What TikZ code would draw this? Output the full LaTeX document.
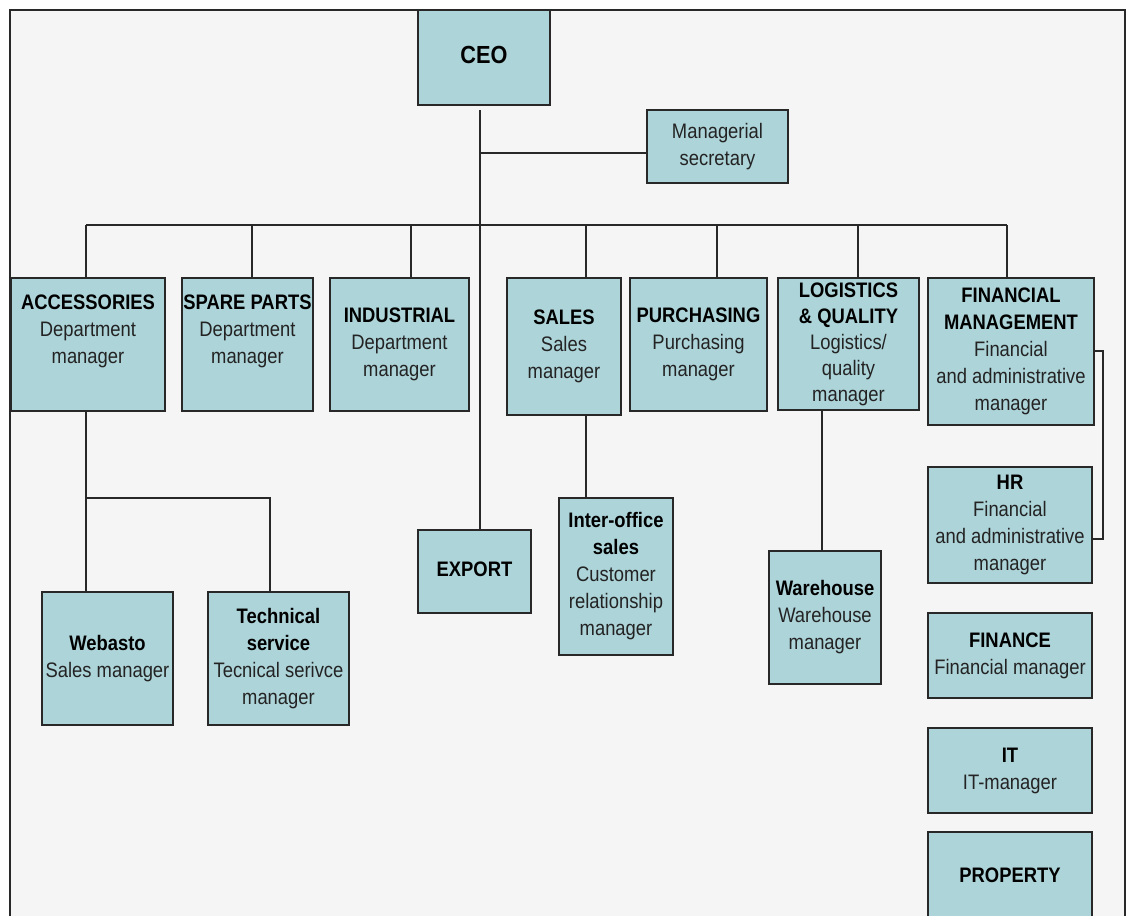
\documentclass[tikz,border=0pt]{standalone}
\usepackage{fontspec}
\usepackage{graphicx}
\setmainfont{Liberation Sans}
\definecolor{boxfill}{RGB}{173,212,217}
\definecolor{pagebg}{RGB}{245,245,245}
\definecolor{edge}{RGB}{40,40,40}
\definecolor{ink}{RGB}{35,35,35}
% text block set a little taller than wide
\newcommand{\tall}[1]{\scalebox{1}[1.14]{\begin{tabular}{@{}c@{}}#1\end{tabular}}}
\newcommand{\hd}[1]{\textbf{\color{black}#1}}
\tikzset{
  unit/.style={draw=edge, line width=1.4pt, fill=boxfill, inner sep=0pt,
    align=center, text=ink, font=\fontsize{18.4}{23.7}\selectfont},
  link/.style={draw=edge, line width=1.3pt},
}
\begin{document}
\begin{tikzpicture}[x=1pt, y=-1pt]
\useasboundingbox (0,0) rectangle (1128,916);
\clip (0,0) rectangle (1128,916);
% page frame
\fill[white] (0,0) rectangle (1128,916);
\fill[pagebg] (10,10) rectangle (1125,920);
\draw[edge, line width=1.3pt] (10,920) -- (10,10) -- (1125,10) -- (1125,920);

% top level
\node[unit, minimum width=132pt, minimum height=95pt, font=\fontsize{21.7}{26}\selectfont] (ceo) at (484,57.5) {\tall{\hd{CEO}}};
\node[unit, minimum width=141pt, minimum height=73pt] (sec) at (717.5,146.5) {\tall{Managerial\\secretary}};

% departments
\node[unit, minimum width=154pt, minimum height=133pt] (acc) at (88,344.5) {\tall{\hd{ACCESSORIES}\\Department\\manager\\{}}};
\node[unit, minimum width=131pt, minimum height=133pt] (spare) at (247.5,344.5) {\tall{\hd{SPARE PARTS}\\Department\\manager\\{}}};
\node[unit, minimum width=139pt, minimum height=133pt] (ind) at (399.5,344.5) {\tall{\hd{INDUSTRIAL}\\Department\\manager}};
\node[unit, minimum width=114pt, minimum height=137pt] (sales) at (564,346.5) {\tall{\hd{SALES}\\Sales\\manager}};
\node[unit, minimum width=137pt, minimum height=133pt] (purch) at (698.5,344.5) {\tall{\hd{PURCHASING}\\Purchasing\\manager}};
\node[unit, minimum width=141pt, minimum height=132pt, font=\fontsize{18.4}{22.8}\selectfont] (log) at (848.5,344) {\tall{\hd{LOGISTICS}\\\hd{\& QUALITY}\\Logistics/\\quality\\manager}};
\node[unit, minimum width=166pt, minimum height=147pt] (fin) at (1011,351.5) {\tall{\hd{FINANCIAL}\\\hd{MANAGEMENT}\\Financial\\and administrative\\manager}};

% financial column
\node[unit, minimum width=164pt, minimum height=116pt] (hr) at (1010,525) {\tall{\hd{HR}\\Financial\\and administrative\\manager}};
\node[unit, minimum width=164pt, minimum height=85pt] (finance) at (1010,655.5) {\tall{\hd{FINANCE}\\Financial manager}};
\node[unit, minimum width=164pt, minimum height=85pt] (it) at (1010,770.5) {\tall{\hd{IT}\\IT-manager}};
\node[unit, minimum width=164pt, minimum height=90pt] (prop) at (1010,877) {\tall{\hd{PROPERTY}}};

% lower units
\node[unit, minimum width=131pt, minimum height=133pt] (webasto) at (107.5,658.5) {\tall{\hd{Webasto}\\Sales manager}};
\node[unit, minimum width=141pt, minimum height=133pt] (tech) at (278.5,658.5) {\tall{\hd{Technical}\\\hd{service}\\Tecnical serivce\\manager}};
\node[unit, minimum width=113pt, minimum height=83pt] (export) at (474.5,571.5) {\tall{\hd{EXPORT}}};
\node[unit, minimum width=114pt, minimum height=157pt] (inter) at (616,576.5) {\tall{\hd{Inter-office}\\\hd{sales}\\Customer\\relationship\\manager}};
\node[unit, minimum width=112pt, minimum height=133pt] (ware) at (825,617.5) {\tall{\hd{Warehouse}\\Warehouse\\manager}};

% junction points
\coordinate (ceoTap) at (480,110);
\coordinate (secJ) at (480,153);
\coordinate (busL) at (86,225);
\coordinate (busR) at (1007,225);
\coordinate (dSpare) at (252,225);
\coordinate (dInd) at (411,225);
\coordinate (dSales) at (586,225);
\coordinate (dPurch) at (717,225);
\coordinate (dLog) at (858,225);
\coordinate (accOut) at (86,411);
\coordinate (accJ) at (86,498);
\coordinate (techJ) at (270,498);
\coordinate (salesOut) at (586,415);
\coordinate (logOut) at (822,410);
\coordinate (finOut) at (1094,351);
\coordinate (finBr) at (1103,351);
\coordinate (hrIn) at (1103,539);

% connectors
\draw[link] (ceoTap) -- (ceoTap |- export.north);
\draw[link] (secJ) -- (secJ -| sec.west);
\draw[link] (busL) -- (busR);
\draw[link] (busL) -- (busL |- acc.north);
\draw[link] (dSpare) -- (dSpare |- spare.north);
\draw[link] (dInd) -- (dInd |- ind.north);
\draw[link] (dSales) -- (dSales |- sales.north);
\draw[link] (dPurch) -- (dPurch |- purch.north);
\draw[link] (dLog) -- (dLog |- log.north);
\draw[link] (busR) -- (busR |- fin.north);
\draw[link] (accOut) -- (accOut |- webasto.north);
\draw[link] (accJ) -- (techJ) -- (techJ |- tech.north);
\draw[link] (salesOut) -- (salesOut |- inter.north);
\draw[link] (logOut) -- (logOut |- ware.north);
\draw[link] (finOut) -- (finBr) -- (hrIn) -- (hrIn -| hr.east);
\end{tikzpicture}
\end{document}
